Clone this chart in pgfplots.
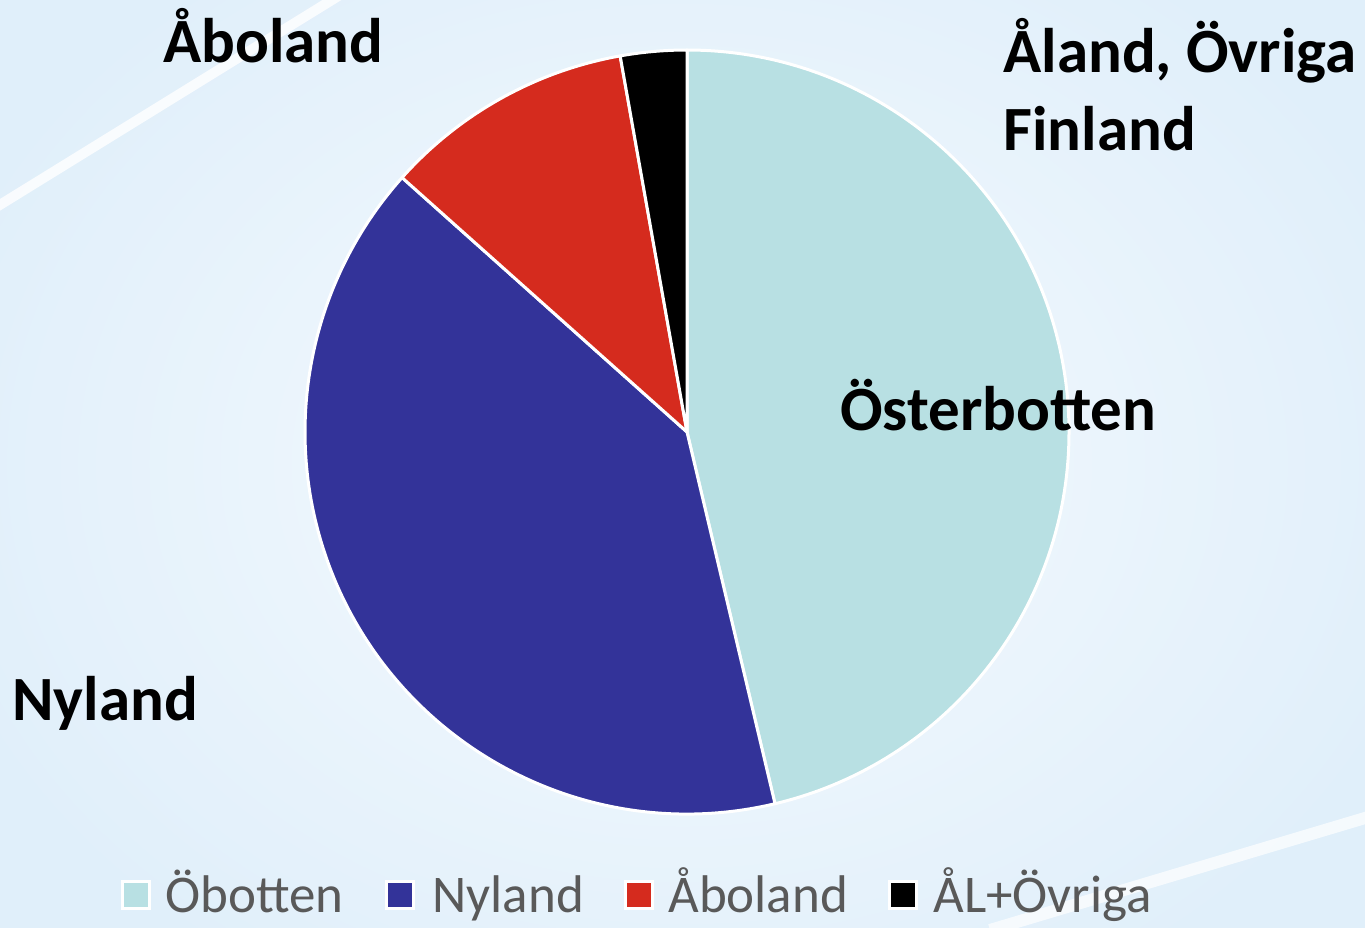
\documentclass[border=0pt]{standalone}
\usepackage{pgfplots}
\pgfplotsset{compat=1.18}
\usepackage{pgfplotstable}
\usepackage{fontspec}
\setmainfont{Carlito}
\definecolor{cOb}{HTML}{B8E0E3}
\definecolor{cNy}{HTML}{333399}
\definecolor{cAb}{HTML}{D52B1E}
\definecolor{legtext}{HTML}{595959}
\definecolor{bgA}{HTML}{E0EFFA}
\definecolor{bgB}{HTML}{F6FAFE}

\pgfplotstableread{
name value color
Obotten 46.3 cOb
Nyland 40.3 cNy
Aboland 10.6 cAb
ALOvriga 2.8 black
}\piedata

\begin{document}
\begin{tikzpicture}
\begin{axis}[scale only axis, width=682.5pt, height=463.5pt,
  xmin=0, xmax=1365, ymin=0, ymax=927, y dir=reverse,
  hide axis, clip=false]
\pgfplotsextra{
  % background
  \begin{scope}
  \clip (axis cs:0,0) rectangle (axis cs:1365,927);
  \fill[bgA] (axis cs:0,0) rectangle (axis cs:1365,927);
  \shade[inner color=bgB, outer color=bgA] (axis cs:-100,-150) rectangle (axis cs:1465,1077);
  \draw[white, line width=5pt, opacity=0.8] (axis cs:-10,211) -- (axis cs:340,-5);
  \draw[white, line width=6pt, opacity=0.7] (axis cs:990,930) -- (axis cs:1375,815);
  \end{scope}
  % pie
  \xdef\curang{90}
  \foreach \i in {0,...,3}{
    \pgfplotstablegetelem{\i}{value}\of\piedata
    \let\val\pgfplotsretval
    \pgfplotstablegetelem{\i}{color}\of\piedata
    \let\col\pgfplotsretval
    \pgfmathsetmacro\endang{\curang-3.6*\val}
    \fill[\col, draw=white, line width=1.5pt, line join=round]
      (axis cs:687,432) -- ++(\curang:191pt)
      arc[start angle=\curang, end angle=\endang, radius=191pt] -- cycle;
    \xdef\curang{\endang}
  }
}
% labels
\node[anchor=base west, inner sep=0, font=\fontsize{31.5}{38}\selectfont\bfseries] at (axis cs:163,62) {Åboland};
\node[anchor=base west, inner sep=0, font=\fontsize{31.5}{38}\selectfont\bfseries] at (axis cs:1003,72) {Åland, Övriga};
\node[anchor=base west, inner sep=0, font=\fontsize{31.5}{38}\selectfont\bfseries] at (axis cs:1003,150) {Finland};
\node[anchor=base west, inner sep=0, font=\fontsize{31.5}{38}\selectfont\bfseries] at (axis cs:840,430) {Österbotten};
\node[anchor=base west, inner sep=0, font=\fontsize{31.5}{38}\selectfont\bfseries] at (axis cs:12,720) {Nyland};
% legend
\node[fill=cOb, draw=white, line width=1.5pt, minimum size=13.5pt, inner sep=0] at (axis cs:136,895) {};
\node[fill=cNy, draw=white, line width=1.5pt, minimum size=13.5pt, inner sep=0] at (axis cs:400,895) {};
\node[fill=cAb, draw=white, line width=1.5pt, minimum size=13.5pt, inner sep=0] at (axis cs:639,895) {};
\node[fill=black, draw=white, line width=1.5pt, minimum size=13.5pt, inner sep=0] at (axis cs:903,895) {};
\node[anchor=base west, inner sep=0, text=legtext, font=\fontsize{26.5}{32}\selectfont] at (axis cs:165,912) {Öbotten};
\node[anchor=base west, inner sep=0, text=legtext, font=\fontsize{26.5}{32}\selectfont] at (axis cs:432,912) {Nyland};
\node[anchor=base west, inner sep=0, text=legtext, font=\fontsize{26.5}{32}\selectfont] at (axis cs:668,912) {Åboland};
\node[anchor=base west, inner sep=0, text=legtext, font=\fontsize{26.5}{32}\selectfont] at (axis cs:933,912) {ÅL+Övriga};
\end{axis}
\end{tikzpicture}
\end{document}
